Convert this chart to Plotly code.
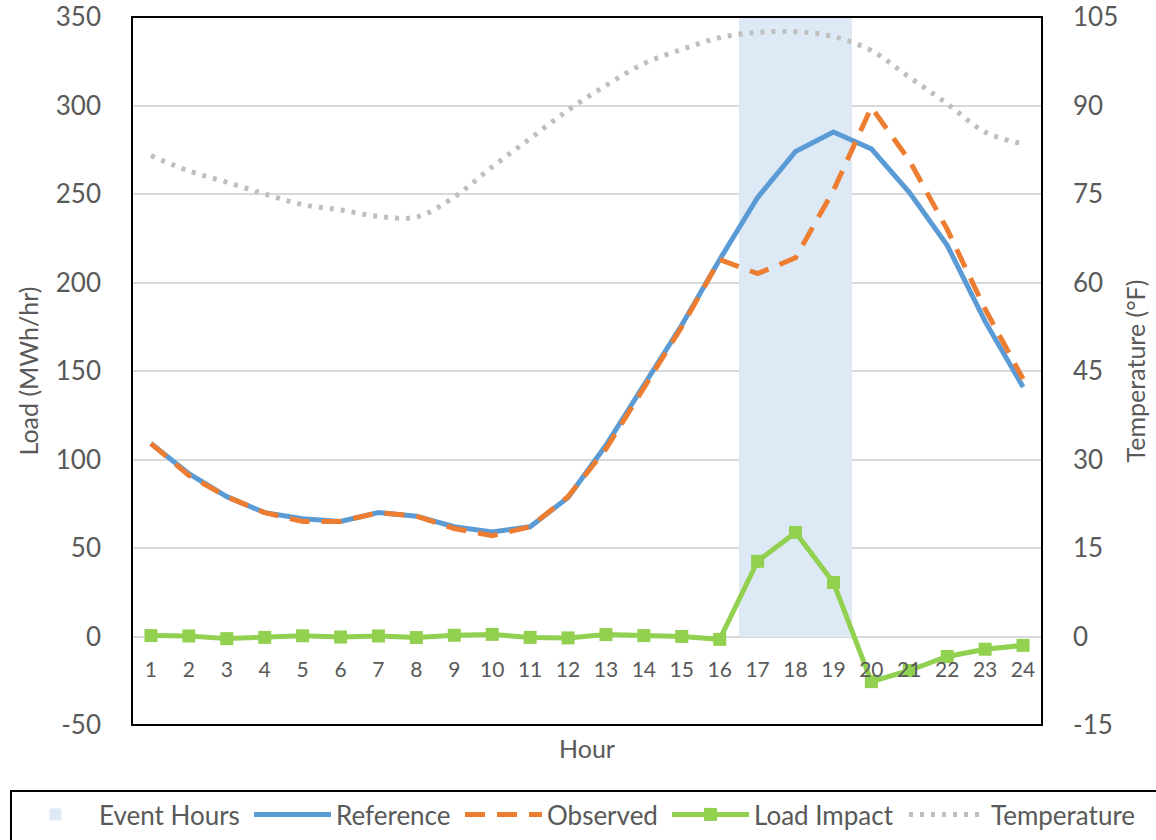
import plotly.graph_objects as go

hours = list(range(1, 25))
reference = [109, 92, 79, 70, 66.5, 65, 70, 68, 62, 59, 62, 78.5,
             108, 142, 176, 213, 248, 274, 285, 275.5, 251, 221, 178, 141]
observed = [109, 91, 79, 70, 65, 65, 70, 68, 61, 57, 62, 79,
            106, 141, 175, 213, 205, 214, 252, 299, 269, 230, 185, 145.5]
load_impact = [0.5, 0.3, -1.2, -0.5, 0.4, -0.3, 0.3, -0.6, 0.7, 1.2, -0.5, -0.8,
               1.1, 0.5, 0.0, -1.6, 42.5, 58.8, 30.5, -25.5, -19.2, -11.3, -7.2, -5.0]
temperature = [81.5, 78.9, 77.0, 75.0, 73.2, 72.3, 71.2, 71.1, 74.5, 79.6, 84.4, 89.2,
               93.4, 97.1, 99.5, 101.5, 102.4, 102.5, 101.7, 99.3, 94.8, 90.3, 85.5, 83.5]
event_hours = [17, 18, 19]
load_ticks = [-50, 0, 50, 100, 150, 200, 250, 300, 350]
temp_ticks = [-15, 0, 15, 30, 45, 60, 75, 90, 105]
load_range = [load_ticks[0], load_ticks[-1]]
temp_range = [temp_ticks[0], temp_ticks[-1]]

FONT = "Lato"
GREY_TXT = "#595959"

W, H = 1156, 840
ML, MR, MT, MB = 132, 114, 17, 115
PW, PH = W - ML - MR, H - MT - MB


def px_x(px):
    return (px - ML) / PW


def px_y(py):
    return (H - MB - py) / PH


fig = go.Figure()
fig.add_trace(go.Bar(x=event_hours, y=[load_range[1]] * len(event_hours), width=1,
                     marker=dict(color="#DDEAF6", line=dict(width=0)),
                     name="Event Hours", yaxis="y", hoverinfo="skip", legend="legend"))
fig.add_trace(go.Scatter(x=hours, y=reference, mode="lines", name="Reference",
                         line=dict(color="#5B9BD5", width=5), yaxis="y", legend="legend2"))
fig.add_trace(go.Scatter(x=hours, y=observed, mode="lines", name="Observed",
                         line=dict(color="#ED7D31", width=5, dash="20px,12px"), yaxis="y",
                         legend="legend3"))
fig.add_trace(go.Scatter(x=hours, y=load_impact, mode="lines+markers", name="Load Impact",
                         line=dict(color="#92D050", width=5),
                         marker=dict(symbol="square", size=13, color="#92D050"), yaxis="y",
                         legend="legend4"))
fig.add_trace(go.Scatter(x=hours, y=temperature, mode="lines", name="Temperature",
                         line=dict(color="#BFBFBF", width=5, dash="4px,7px",
                                   shape="spline", smoothing=1.0), yaxis="y2",
                         legend="legend5"))

legend_left_px = [12, 249, 460, 667, 904]
legend_common = dict(orientation="h", xanchor="left", y=px_y(791), yanchor="top",
                     borderwidth=0, bgcolor="rgba(0,0,0,0)",
                     font=dict(size=26, color=GREY_TXT, family=FONT), itemwidth=77)
legends = {}
for i, lp in enumerate(legend_left_px):
    key = "legend" if i == 0 else f"legend{i + 1}"
    legends[key] = dict(legend_common, x=px_x(lp))

fig.update_layout(
    width=W, height=H,
    margin=dict(l=ML, r=MR, t=MT, b=MB, autoexpand=False),
    paper_bgcolor="white", plot_bgcolor="white",
    font=dict(family=FONT, color=GREY_TXT),
    showlegend=True,
    bargap=0,
    xaxis=dict(range=[0.5, 24.5], tickmode="array", tickvals=hours,
               ticktext=[str(h) for h in hours],
               anchor="free",
               position=(0 - load_range[0]) / (load_range[1] - load_range[0]),
               showgrid=False, zeroline=False, showline=False, ticks="",
               tickfont=dict(size=21, color=GREY_TXT, family=FONT),
               ticklabelstandoff=18),
    yaxis=dict(range=load_range, tickmode="array", tickvals=load_ticks,
               ticktext=[str(v) for v in load_ticks],
               showgrid=True, gridcolor="#D9D9D9",
               gridwidth=2, zeroline=True, zerolinecolor="#D9D9D9", zerolinewidth=2,
               showline=False, ticks="",
               tickfont=dict(size=26, color=GREY_TXT, family=FONT),
               ticklabelstandoff=30,
               title=dict(text="Load (MWh/hr)", font=dict(size=25, color=GREY_TXT, family=FONT),
                          standoff=10)),
    yaxis2=dict(range=temp_range, tickmode="array", tickvals=temp_ticks,
                ticktext=[str(v) for v in temp_ticks],
                overlaying="y", side="right",
                showgrid=False, zeroline=False, showline=False, ticks="",
                tickfont=dict(size=26, color=GREY_TXT, family=FONT),
                ticklabelstandoff=30,
                title=dict(text="Temperature (°F)", font=dict(size=25, color=GREY_TXT, family=FONT),
                           standoff=10)),
    shapes=[
        dict(type="rect", xref="paper", yref="paper", x0=0, x1=1, y0=0, y1=1,
             line=dict(color="black", width=2), fillcolor="rgba(0,0,0,0)", layer="above"),
        dict(type="rect", xref="paper", yref="paper", x0=px_x(11), x1=px_x(1170),
             y0=px_y(791), y1=px_y(860),
             line=dict(color="black", width=2), fillcolor="rgba(0,0,0,0)", layer="above"),
    ],
    annotations=[dict(text="Hour", xref="paper", yref="paper", x=0.5, y=px_y(748),
                      xanchor="center", yanchor="middle", showarrow=False,
                      font=dict(size=25, color=GREY_TXT, family=FONT))],
    **legends,
)

fig.write_html("out.html")
